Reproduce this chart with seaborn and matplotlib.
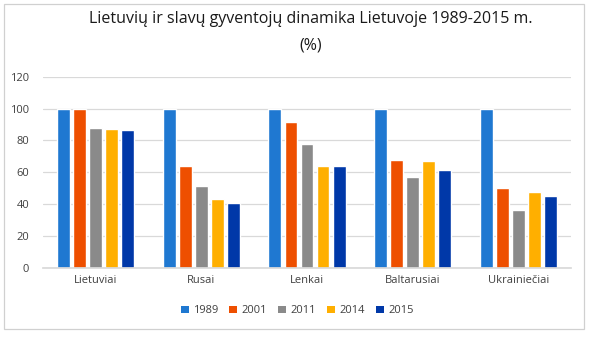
import matplotlib
matplotlib.use("Agg")
import matplotlib.pyplot as plt
import seaborn as sns
import pandas as pd
from matplotlib.patches import Rectangle, Patch

categories = ["Lietuviai", "Rusai", "Lenkai", "Baltarusiai", "Ukrainiečiai"]
years = ["1989", "2001", "2011", "2014", "2015"]
v1989 = [100, 100, 100, 100, 100]
v2001 = [99.6, 63.7, 91.4, 67.7, 50.1]
v2011 = [87.6, 51.2, 77.6, 57.4, 36.7]
v2014 = [87.0, 43.0, 63.7, 67.1, 47.4]
v2015 = [86.4, 40.5, 63.7, 61.8, 44.9]
colors = ["#1F78D1", "#EE4F00", "#8A8A8A", "#FFAF00", "#0038A8"]

series = [v1989, v2001, v2011, v2014, v2015]
rows = []
for y, vals in zip(years, series):
    for c, v in zip(categories, vals):
        rows.append({"cat": c, "year": y, "val": v})
df = pd.DataFrame(rows)

sns.set_theme(style="white")
plt.rcParams["font.family"] = ["Open Sans", "DejaVu Sans"]

fig = plt.figure(figsize=(5.92, 3.38), dpi=100)
ax = fig.add_axes([0.0726, 0.207, 0.892, 0.566])
sns.barplot(data=df, x="cat", y="val", hue="year", order=categories,
            hue_order=years, palette=colors, width=0.76, gap=0.2,
            saturation=1, ax=ax, legend=False)
ax.set_ylim(0, 120)
ax.set_yticks(range(0, 121, 20))
ax.set_xlim(-0.5, 4.5)
ax.grid(axis="y", color="#D9D9D9", linewidth=0.9)
ax.set_axisbelow(True)
for s in ["top", "right", "left"]:
    ax.spines[s].set_visible(False)
ax.spines["bottom"].set_color("#D9D9D9")
ax.tick_params(axis="y", length=0, labelsize=8, colors="#404040", pad=10)
ax.tick_params(axis="x", length=0, labelsize=8, colors="#404040", pad=5)
ax.set_xlabel("")
ax.set_ylabel("")

fig.text(0.525, 0.945, "Lietuvių ir slavų gyventojų dinamika Lietuvoje 1989-2015 m.",
         ha="center", va="center", fontsize=11.5, color="#1a1a1a")
fig.text(0.525, 0.865, "(%)", ha="center", va="center", fontsize=11.5, color="#1a1a1a")

handles = [Patch(facecolor=c, edgecolor="none") for c in colors]
fig.legend(handles, years, loc="center", bbox_to_anchor=(0.502, 0.08), ncol=5,
           frameon=False, fontsize=8, handlelength=0.7, handleheight=0.7,
           handletextpad=0.4, columnspacing=1.0, labelcolor="#404040")

fig.patches.append(Rectangle((0.007, 0.027), 0.98, 0.961, transform=fig.transFigure,
                             fill=False, edgecolor="#D0D0D0", linewidth=0.9))

fig.savefig("out.png", dpi=100, facecolor="white")
